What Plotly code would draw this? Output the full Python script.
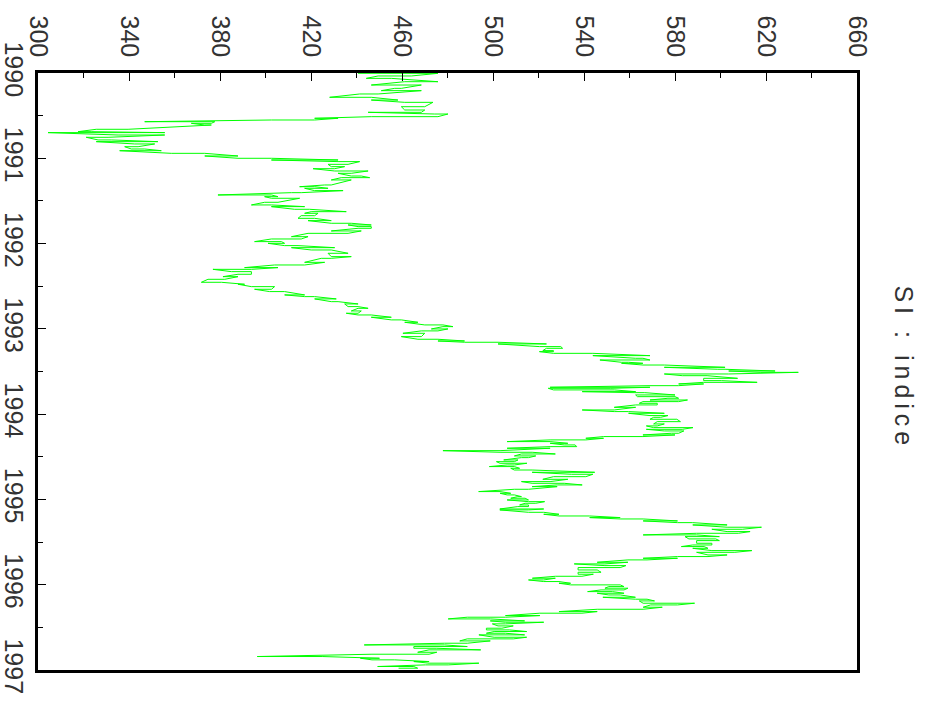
import plotly.graph_objects as go

# decimal year of each short period, and the index's low / high within it
year = [
    1990.004, 1990.035, 1990.063, 1990.102, 1990.141, 1990.180, 1990.207, 1990.246, 1990.285, 1990.317,
    1990.344, 1990.395, 1990.434, 1990.461, 1990.481, 1990.512, 1990.531, 1990.551, 1990.571, 1990.590,
    1990.610, 1990.660, 1990.688, 1990.699, 1990.727, 1990.754, 1990.785, 1990.805, 1990.832, 1990.864,
    1990.891, 1990.911, 1990.942, 1990.973, 1991.000, 1991.020, 1991.039, 1991.071, 1991.098, 1991.122,
    1991.149, 1991.176, 1991.208, 1991.227, 1991.254, 1991.313, 1991.333, 1991.352, 1991.379, 1991.403,
    1991.430, 1991.450, 1991.469, 1991.516, 1991.547, 1991.567, 1991.598, 1991.626, 1991.645, 1991.673,
    1991.704, 1991.731, 1991.762, 1991.782, 1991.801,
    1991.821, 1991.852, 1991.880, 1991.919, 1991.946, 1991.977, 1991.997, 1992.024, 1992.048, 1992.075,
    1992.114, 1992.153, 1992.173, 1992.220, 1992.251, 1992.282, 1992.302, 1992.329, 1992.360, 1992.388,
    1992.419, 1992.454, 1992.477, 1992.505, 1992.536, 1992.563, 1992.602, 1992.622, 1992.649, 1992.681,
    1992.708, 1992.739, 1992.759, 1992.790, 1992.817, 1992.837, 1992.864, 1992.895, 1992.923, 1992.954,
    1992.974, 1993.001, 1993.024, 1993.052, 1993.091, 1993.122, 1993.142, 1993.157, 1993.177,
    1993.208, 1993.228, 1993.255, 1993.267, 1993.287, 1993.314, 1993.345, 1993.365, 1993.392, 1993.404,
    1993.424, 1993.451, 1993.474, 1993.494, 1993.510, 1993.529, 1993.549, 1993.580, 1993.607, 1993.627,
    1993.646, 1993.666, 1993.685, 1993.697, 1993.716, 1993.736, 1993.748, 1993.775, 1993.795, 1993.814,
    1993.834, 1993.853, 1993.873, 1993.892, 1993.920, 1993.951, 1993.970, 1993.990, 1994.017, 1994.037,
    1994.060, 1994.088, 1994.115, 1994.138, 1994.158, 1994.178, 1994.197, 1994.224, 1994.244, 1994.263,
    1994.283, 1994.302, 1994.322, 1994.342, 1994.361, 1994.381, 1994.400, 1994.428, 1994.447, 1994.467,
    1994.490, 1994.510, 1994.537, 1994.557, 1994.576, 1994.596, 1994.615, 1994.635, 1994.655, 1994.682,
    1994.705, 1994.733, 1994.764, 1994.791, 1994.811, 1994.830, 1994.850, 1994.881, 1994.908, 1994.928,
    1994.947, 1994.967, 1994.986, 1995.006, 1995.026, 1995.045, 1995.065, 1995.084,
    1995.112, 1995.123, 1995.151, 1995.174, 1995.194, 1995.213, 1995.229, 1995.252, 1995.272, 1995.299,
    1995.326, 1995.350, 1995.377, 1995.397, 1995.416, 1995.436, 1995.463, 1995.483, 1995.514, 1995.534,
    1995.553, 1995.573, 1995.600, 1995.620, 1995.651, 1995.670, 1995.690, 1995.709, 1995.737, 1995.756,
    1995.776, 1995.799, 1995.827, 1995.854, 1995.877, 1995.901, 1995.924, 1995.944, 1995.963, 1995.983,
    1996.002, 1996.022, 1996.041, 1996.061, 1996.081, 1996.100, 1996.120, 1996.147, 1996.170, 1996.190,
    1996.217, 1996.237, 1996.264, 1996.288, 1996.315, 1996.334, 1996.362, 1996.381, 1996.401, 1996.424,
    1996.440, 1996.459, 1996.483, 1996.510, 1996.530, 1996.549, 1996.569, 1996.588, 1996.616, 1996.635,
    1996.659, 1996.686, 1996.706, 1996.725, 1996.745, 1996.764, 1996.792, 1996.815, 1996.842, 1996.862,
    1996.881, 1996.901, 1996.920, 1996.940, 1996.959, 1996.979,
]

low = [
    440.7, 449.5, 444.3, 461.2, 446.5, 456.8, 450.9, 441.4, 428.2, 446.5,
    461.2, 459.7, 461.2, 445.1, 474.4, 446.5, 421.6, 402.6, 346.9, 367.4,
    373.3, 325.6, 317.6, 304.4, 335.2, 321.2, 326.4, 325.6, 342.5, 338.1,
    341.0, 335.9, 358.6, 373.3, 387.9, 402.6, 431.9, 427.5, 428.9, 420.9,
    430.4, 431.9, 437.7, 433.3, 428.9, 426.0, 415.0, 417.2, 421.6, 411.4,
    379.1, 399.6, 402.6, 399.6, 393.8, 402.6, 412.8, 420.1, 417.2, 415.7,
    414.3, 418.7, 428.9, 436.3, 440.7,
    440.7, 428.9, 418.7, 411.4, 402.6, 395.2, 401.1, 408.4, 411.4, 420.1,
    427.5, 428.9, 424.5, 417.2, 404.0, 390.8, 376.9, 385.0, 387.9, 381.3,
    374.7, 371.8, 387.9, 393.8, 395.2, 401.8, 408.4, 417.2, 421.6, 428.9,
    434.8, 436.3, 440.7, 437.7, 435.5, 440.7, 446.5, 455.3, 461.2, 470.0,
    478.0, 472.9, 468.5, 460.4, 459.7, 467.0, 475.8, 487.5, 502.2,
    520.4, 523.5, 521.9, 520.4, 526.6, 543.9, 562.7, 547.0, 556.5, 556.5,
    565.9, 575.3, 598.8, 603.6, 617.7, 575.3, 583.2, 592.6, 592.6, 592.6,
    581.6, 569.0, 525.1, 524.3, 526.6, 539.2, 562.0, 562.7, 563.5, 576.9,
    569.0, 565.9, 564.3, 562.7, 553.3, 539.2, 553.3, 559.6, 569.0, 570.6,
    569.0, 572.2, 570.6, 567.4, 570.6, 567.4, 575.3, 578.4, 565.9, 548.6,
    540.8, 525.1, 506.2, 525.1, 531.3, 525.1, 506.2, 478.0, 503.1, 512.5,
    509.4, 512.5, 504.7, 501.5, 503.1, 506.2, 498.4, 507.8, 509.4, 517.2,
    534.5, 526.6, 521.9, 512.5, 517.2, 528.2, 517.2, 509.4, 493.7, 503.1,
    506.2, 510.9, 507.8, 506.2, 515.6, 514.1, 511.7, 510.9,
    503.0, 503.0, 515.6, 522.3, 529.0, 542.5, 555.9, 566.0, 581.1, 587.8,
    602.9, 596.2, 602.9, 589.5, 566.0, 584.4, 586.1, 589.5, 589.5, 587.8,
    582.8, 587.8, 596.2, 589.5, 594.5, 581.1, 566.0, 559.3, 545.8, 535.7,
    549.2, 537.4, 537.4, 537.4, 537.4, 527.4, 517.3, 515.6, 522.3, 529.0,
    534.1, 550.9, 549.2, 547.5, 541.6, 545.8, 550.9, 548.3, 562.6, 564.3,
    566.0, 569.3, 566.0, 545.8, 529.0, 520.6, 505.5, 488.7, 480.3, 498.8,
    505.5, 499.7, 502.2, 497.1, 497.1, 500.5, 497.1, 493.8, 500.5, 488.7,
    485.4, 478.7, 443.4, 465.2, 465.2, 471.9, 466.9, 446.8, 396.4, 441.7,
    446.8, 465.2, 471.9, 470.3, 449.3, 458.5,
]

high = [
    475.8, 464.1, 455.3, 475.8, 468.5, 459.7, 468.5, 449.5, 446.5, 458.2,
    473.6, 470.0, 470.0, 468.5, 480.2, 475.8, 431.9, 421.6, 377.7, 376.2,
    376.2, 339.6, 323.4, 355.7, 355.7, 330.8, 332.2, 352.7, 351.3, 344.0,
    346.9, 354.2, 373.3, 387.9, 402.6, 431.9, 441.4, 436.3, 434.8, 430.4,
    445.1, 437.7, 442.1, 445.8, 437.7, 428.9, 421.6, 427.5, 434.1, 415.7,
    402.6, 405.5, 415.0, 405.5, 402.6, 417.2, 419.4, 435.5, 423.1, 421.6,
    421.6, 428.9, 437.7, 446.5, 446.5,
    446.5, 442.1, 436.3, 418.7, 415.7, 407.0, 408.4, 414.3, 430.4, 428.9,
    436.3, 437.7, 428.9, 426.0, 417.2, 405.5, 393.8, 393.8, 393.8, 387.9,
    382.1, 380.6, 390.8, 404.0, 402.6, 408.4, 417.2, 421.6, 431.1, 431.9,
    440.7, 440.7, 445.1, 442.1, 440.7, 446.5, 455.3, 459.7, 467.0, 478.0,
    482.4, 480.2, 475.8, 470.0, 468.5, 475.8, 487.5, 502.2, 523.5,
    529.8, 530.6, 526.6, 526.6, 543.9, 569.0, 565.9, 569.0, 559.6, 565.9,
    575.3, 602.0, 602.0, 624.0, 634.2, 603.6, 594.1, 607.5, 600.4, 616.1,
    592.6, 581.6, 569.0, 551.8, 553.3, 562.7, 566.7, 580.0, 580.0, 581.6,
    585.5, 581.6, 572.2, 572.2, 562.7, 553.3, 559.6, 575.3, 576.9, 573.7,
    580.8, 582.4, 575.3, 572.2, 587.9, 583.2, 583.9, 581.6, 580.0, 565.9,
    548.6, 540.8, 525.1, 532.9, 536.1, 536.8, 525.1, 503.1, 517.2, 527.4,
    518.8, 515.6, 511.0, 509.4, 514.9, 509.4, 509.4, 511.7, 517.2, 544.7,
    543.9, 540.8, 532.9, 525.1, 531.3, 539.2, 528.2, 515.6, 503.1, 507.8,
    509.4, 512.5, 514.1, 515.6, 522.7, 518.8, 515.6, 515.6,
    522.3, 515.6, 522.3, 529.0, 542.5, 555.9, 566.0, 581.1, 587.8, 602.9,
    618.0, 609.6, 613.0, 607.9, 589.5, 599.5, 597.9, 599.5, 596.2, 596.2,
    592.8, 594.5, 613.8, 606.3, 602.9, 594.5, 581.1, 567.7, 559.3, 549.2,
    558.4, 555.9, 545.8, 547.5, 544.1, 539.1, 527.4, 522.3, 529.0, 534.1,
    555.9, 557.6, 559.3, 557.6, 552.5, 557.6, 555.9, 562.6, 567.7, 571.0,
    588.6, 581.1, 574.4, 566.0, 545.8, 539.1, 520.6, 505.5, 498.8, 513.9,
    522.3, 505.5, 508.9, 503.9, 507.2, 514.8, 505.5, 513.9, 514.8, 508.9,
    498.8, 488.7, 478.7, 488.7, 475.3, 494.6, 475.3, 471.9, 424.9, 450.1,
    456.8, 471.9, 493.8, 480.3, 465.2, 466.9,
]

title_text = "SI : indice"

# the path swings between low and high within each period
xs, ys = [], []
for i, (t, lo, hi) in enumerate(zip(year, low, high)):
    pair = (lo, hi) if i % 2 == 0 else (hi, lo)
    for v in pair:
        xs.append(v)
        ys.append(t)

FONT = "Liberation Sans"
TXT = "#333"
fig = go.Figure(go.Scatter(x=xs, y=ys, mode="lines",
                           line=dict(color="#00ff00", width=1),
                           hoverinfo="skip"))

fig.update_layout(
    width=930, height=709,
    margin=dict(l=38, r=73, t=73, b=39, autoexpand=False),
    paper_bgcolor="white", plot_bgcolor="white",
    showlegend=False,
    font=dict(family=FONT, size=25, color=TXT),
)

fig.update_xaxes(
    range=[300, 660], side="top", automargin=False,
    tick0=300, dtick=40, ticks="inside", ticklen=8, tickwidth=1, tickcolor="black",
    tickangle=90, tickfont=dict(family=FONT, size=25, color=TXT),
    ticklabelstandoff=4,
    minor=dict(tick0=300, dtick=20, ticks="inside", ticklen=5, tickwidth=1,
               tickcolor="black", showgrid=False),
    showline=True, linewidth=3, linecolor="black", mirror=True,
    showgrid=False, zeroline=False,
)
fig.update_yaxes(
    range=[1997, 1990], automargin=False,
    tick0=1990, dtick=1, tickformat="d", ticks="inside", ticklen=8, tickwidth=1,
    tickcolor="black", tickangle=90, tickfont=dict(family=FONT, size=25, color=TXT),
    ticklabelstandoff=0,
    minor=dict(tick0=1990, dtick=0.5, ticks="inside", ticklen=5, tickwidth=1,
               tickcolor="black", showgrid=False),
    showline=True, linewidth=3, linecolor="black", mirror=True,
    showgrid=False, zeroline=False,
)

spaced = "\u2009".join(title_text)
fig.add_annotation(
    text=spaced, xref="paper", yref="paper", x=1.058, y=0.511,
    showarrow=False, textangle=90, xanchor="center", yanchor="middle",
    font=dict(family=FONT, size=25, color=TXT),
)

fig.write_html("out.html")
